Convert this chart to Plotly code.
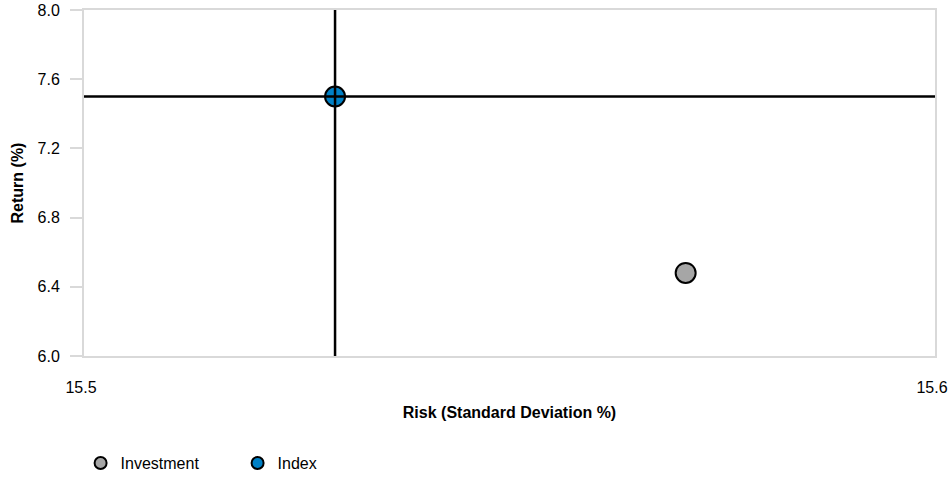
import plotly.graph_objects as go

series_names = ["Investment", "Index"]
risk = [15.5707, 15.5295]
ret = [6.48, 7.50]
colors = ["#a6a6a6", "#0080c6"]

x_ticks = [15.5, 15.6]
y_ticks = [6.0, 6.4, 6.8, 7.2, 7.6, 8.0]

fig = go.Figure()
for name, xv, yv, c in zip(series_names, risk, ret, colors):
    fig.add_trace(go.Scatter(
        x=[xv], y=[yv], mode="markers", name=name,
        marker=dict(size=20, color=c, line=dict(color="#000000", width=2)),
    ))

idx = series_names.index("Index")
fig.add_shape(type="line", xref="x", yref="paper", x0=risk[idx], x1=risk[idx], y0=0, y1=1,
              line=dict(color="#000000", width=2.5), layer="above")
fig.add_shape(type="line", xref="paper", yref="y", x0=0, x1=1, y0=ret[idx], y1=ret[idx],
              line=dict(color="#000000", width=2.5), layer="above")

FAM = "Liberation Sans, Arial, sans-serif"
font = dict(family=FAM, size=16, color="#000000")

fig.update_layout(
    width=949, height=477,
    margin=dict(l=84, r=14, t=10, b=121),
    paper_bgcolor="white", plot_bgcolor="white",
    font=font,
    showlegend=True,
    legend=dict(orientation="h", x=-0.004, xanchor="left",
                yref="container", y=0.029, yanchor="middle",
                font=dict(size=16, color="#000000", family=FAM),
                entrywidth=112, entrywidthmode="pixels", itemsizing="constant"),
    xaxis=dict(range=[15.5, 15.6], tickvals=x_ticks, ticktext=[f"{v:.1f}" for v in x_ticks],
               automargin=False, ticklabeloverflow="allow", ticklabelshift=-3,
               showgrid=False, zeroline=False, showline=True, linecolor="#d9d9d9", linewidth=2,
               mirror=True, ticks="outside", ticklen=16, tickcolor="rgba(0,0,0,0)",
               tickfont=dict(size=16, color="#000000", family=FAM),
               title=dict(text="<b>Risk (Standard Deviation %)</b>", standoff=12,
                          font=dict(size=16, color="#000000", family=FAM))),
    yaxis=dict(range=[6.0, 8.0], tickvals=y_ticks, ticktext=[f"{v:.1f}" for v in y_ticks],
               automargin=False, ticklabeloverflow="allow",
               showgrid=False, zeroline=False, showline=True, linecolor="#d9d9d9", linewidth=2,
               mirror=True, ticks="outside", ticklen=12, tickwidth=2, tickcolor="#d9d9d9",
               ticklabelstandoff=7,
               tickfont=dict(size=16, color="#000000", family=FAM),
               title=dict(text="<b>Return (%)</b>", standoff=10,
                          font=dict(size=16, color="#000000", family=FAM))),
)

fig.write_html("out.html", config={"displayModeBar": False},
               post_script="document.body.style.margin='0';")
